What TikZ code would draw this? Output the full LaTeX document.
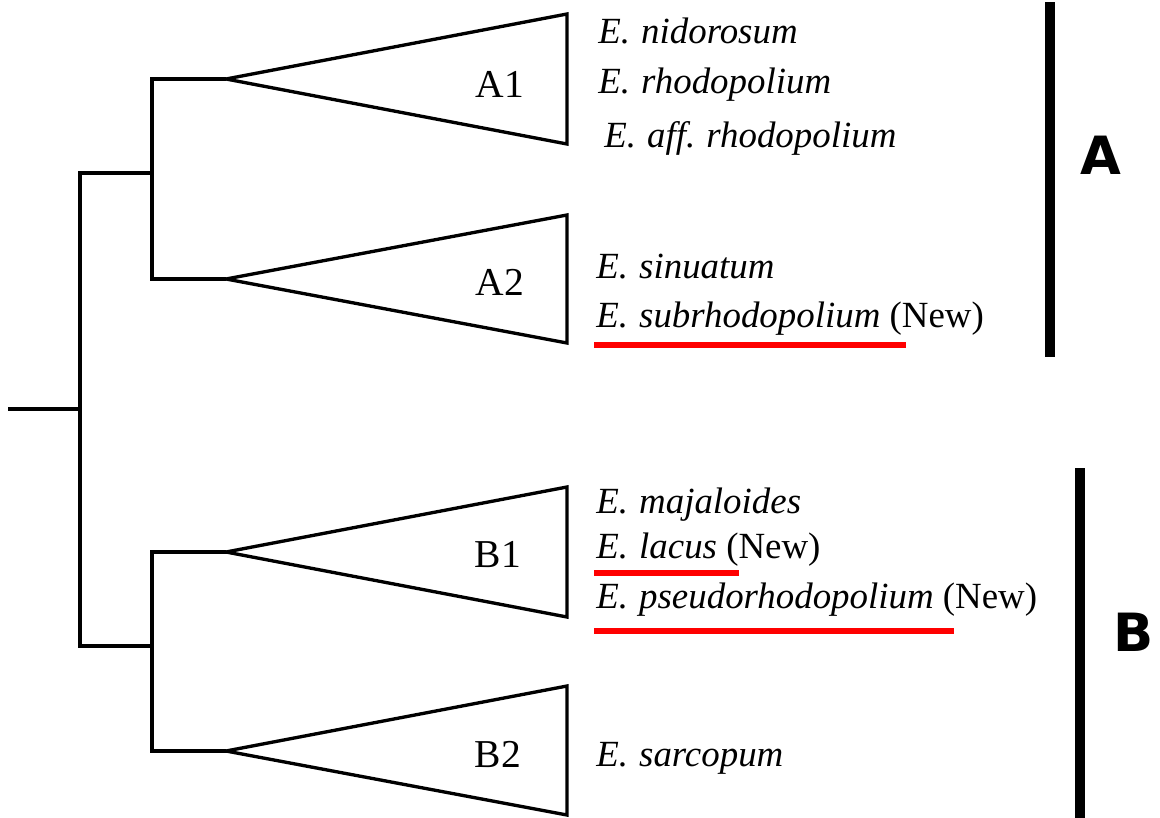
\documentclass[tikz,border=0pt]{standalone}
\usepackage{fontspec}
\setmainfont{Liberation Serif}
\newfontfamily\groupfont{DejaVu Sans}
\newcommand{\genE}{E.\hspace{0.3em}}
\tikzset{
  branch/.style={line width=1.9pt, line join=miter},
  taxon/.style={anchor=base west, inner sep=0pt, font=\fontsize{21}{24}\selectfont},
  cladename/.style={anchor=base, inner sep=0pt, font=\fontsize{22.5}{26}\selectfont},
  newmark/.style={red, line width=2.9pt},
  groupbar/.style={line width=5.5pt},
  grouplabel/.style={inner sep=0pt, font=\groupfont\bfseries\fontsize{30}{32}\selectfont},
}
\begin{document}
\begin{tikzpicture}[x=0.02cm,y=-0.02cm]
  \useasboundingbox (0,0) rectangle (1160,818);
  % tree backbone
  \coordinate (root) at (8,409);
  \coordinate (r) at (80,409);
  \coordinate (rA) at (80,173);
  \coordinate (rB) at (80,646);
  \coordinate (A) at (152,173);
  \coordinate (B) at (152,646);
  \coordinate (A1s) at (152,79);
  \coordinate (A2s) at (152,279);
  \coordinate (B1s) at (152,552);
  \coordinate (B2s) at (152,751);
  % collapsed clades
  \coordinate (A1) at (226,79);
  \coordinate (A1t) at (567,14);
  \coordinate (A1b) at (567,144);
  \coordinate (A2) at (226,279);
  \coordinate (A2t) at (567,215);
  \coordinate (A2b) at (567,343);
  \coordinate (B1) at (226,552);
  \coordinate (B1t) at (567,487);
  \coordinate (B1b) at (567,617);
  \coordinate (B2) at (226,751);
  \coordinate (B2t) at (567,686);
  \coordinate (B2b) at (567,815);

  \draw[branch] (root) -- (r);
  \draw[branch] (A) -- (rA) -- (rB) -- (B);
  \draw[branch] (A1) -- (A1s) -- (A2s) -- (A2);
  \draw[branch] (B1) -- (B1s) -- (B2s) -- (B2);
  \draw[branch] (A1) -- (A1t) -- (A1b) -- cycle;
  \draw[branch] (A2) -- (A2t) -- (A2b) -- cycle;
  \draw[branch] (B1) -- (B1t) -- (B1b) -- cycle;
  \draw[branch] (B2) -- (B2t) -- (B2b) -- cycle;

  \node[cladename] (lA1) at (500,97) {A1};
  \node[cladename] (lA2) at (500,295) {A2};
  \node[cladename] (lB1) at (498,567) {B1};
  \node[cladename] (lB2) at (498,767) {B2};

  % species
  \node[taxon] (nid) at (598,43) {\textit{\genE nidorosum}};
  \node[taxon] (rho) at (598,93) {\textit{\genE rhodopolium}};
  \node[taxon] (aff) at (604,147) {\textit{\genE aff.\hspace{0.3em}rhodopolium}};
  \node[taxon] (sin) at (596,278) {\textit{\genE sinuatum}};
  \node[taxon] (sub) at (596,327) {\textit{\genE subrhodopolium} (New)};
  \node[taxon] (maj) at (596,513) {\textit{\genE majaloides}};
  \node[taxon] (lac) at (596,558) {\textit{\genE lacus} (New)};
  \node[taxon] (pse) at (596,608) {\textit{\genE pseudorhodopolium} (New)};
  \node[taxon] (sar) at (596,766) {\textit{\genE sarcopum}};

  \draw[newmark] (594,345) -- (906,345);
  \draw[newmark] (594,573) -- (739,573);
  \draw[newmark] (594,631) -- (954,631);

  % groups
  \draw[groupbar] (1050,2) -- (1050,357);
  \draw[groupbar] (1080,468) -- (1080,818);
  \node[grouplabel] (gA) at (1101,155) {A};
  \node[grouplabel] (gB) at (1134,632) {B};
\end{tikzpicture}
\end{document}
